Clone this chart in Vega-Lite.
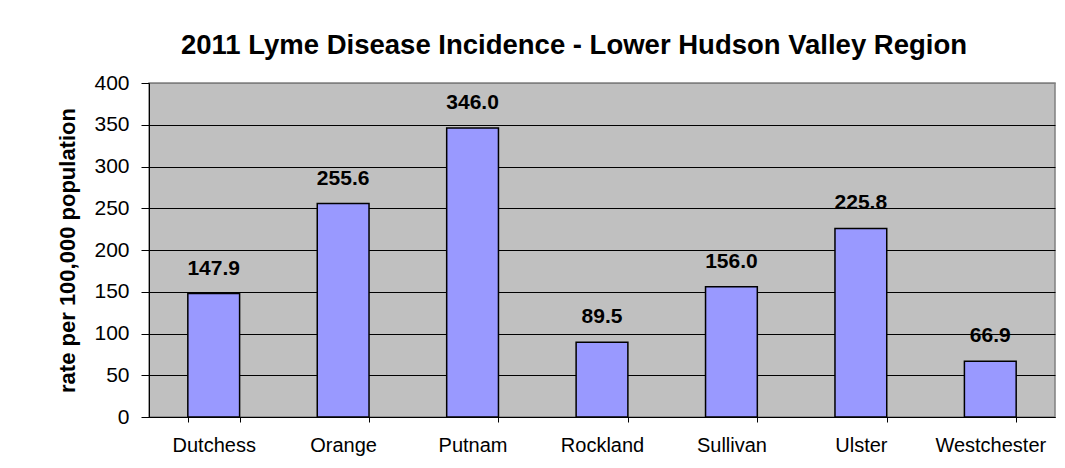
{
  "$schema": "https://vega.github.io/schema/vega-lite/v6.json",
  "width": 906,
  "height": 334,
  "autosize": {"type": "none"},
  "padding": {"left": 149, "top": 83, "right": 10, "bottom": 51},
  "background": "white",
  "title": {
    "text": "2011 Lyme Disease Incidence - Lower Hudson Valley Region",
    "font": "Liberation Sans",
    "fontSize": 27.5,
    "fontWeight": "bold",
    "color": "black",
    "anchor": "middle",
    "frame": "group",
    "offset": -9,
    "baseline": "alphabetic",
    "dx": -28
  },
  "data": {
    "values": [
      {"county": "Dutchess", "rate": 147.9},
      {"county": "Orange", "rate": 255.6},
      {"county": "Putnam", "rate": 346.0},
      {"county": "Rockland", "rate": 89.5},
      {"county": "Sullivan", "rate": 156.0},
      {"county": "Ulster", "rate": 225.8},
      {"county": "Westchester", "rate": 66.9}
    ]
  },
  "encoding": {
    "x": {
      "field": "county",
      "type": "nominal",
      "sort": null,
      "scale": {"paddingInner": 0.6, "paddingOuter": 0.3},
      "axis": {
        "title": null,
        "labelAngle": 0,
        "labelFont": "Liberation Sans",
        "labelFontSize": 20,
        "labelColor": "black",
        "labelPadding": 13,
        "domainColor": "black",
        "domainWidth": 1,
        "tickColor": "black",
        "tickSize": 5,
        "tickBand": "extent",
        "grid": false
      }
    },
    "y": {
      "field": "rate",
      "type": "quantitative",
      "scale": {"domain": [0, 400], "nice": false},
      "axis": {
        "title": "rate per 100,000 population",
        "values": [0, 50, 100, 150, 200, 250, 300, 350, 400],
        "titleFont": "Liberation Sans",
        "titleFontSize": 22,
        "titleFontWeight": "bold",
        "titleColor": "black",
        "titlePadding": 14,
        "labelFont": "Liberation Sans",
        "labelFontSize": 21,
        "labelColor": "black",
        "labelPadding": 12,
        "tickSize": 8,
        "tickColor": "black",
        "domainColor": "black",
        "grid": true,
        "gridColor": {"condition": {"test": "datum.value >= 400", "value": "#808080"}, "value": "black"},
        "gridOpacity": 1,
        "gridWidth": 1
      }
    }
  },
  "layer": [
    {"mark": {"type": "bar", "fill": "#9999FF", "stroke": "black", "strokeWidth": 1.5}},
    {
      "mark": {"type": "text", "font": "Liberation Sans", "fontSize": 21, "fontWeight": "bold", "baseline": "alphabetic", "dy": -19, "color": "black"},
      "encoding": {"text": {"field": "rate", "type": "quantitative", "format": ".1f"}}
    }
  ],
  "config": {"view": {"fill": "#C0C0C0", "stroke": "#808080", "strokeWidth": 1.5}}
}
